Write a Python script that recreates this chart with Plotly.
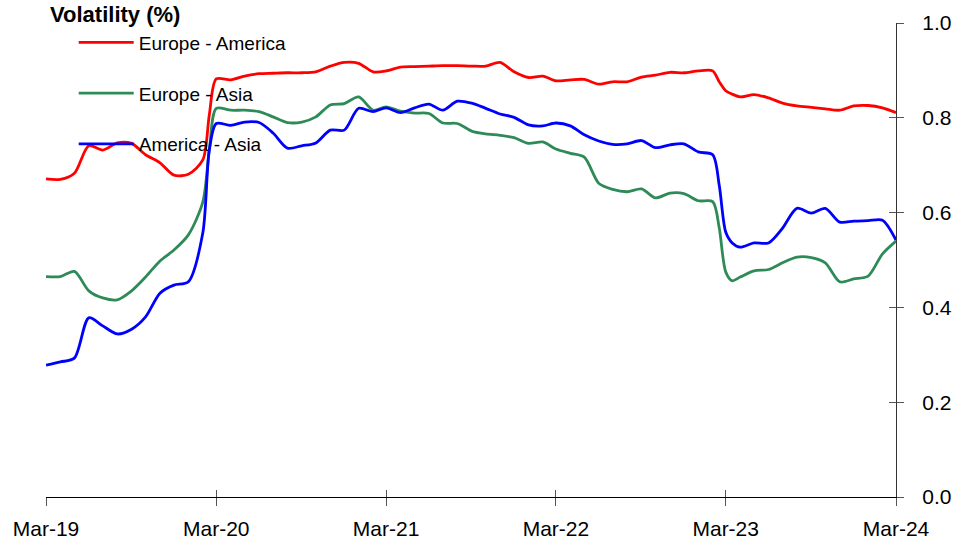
import pandas as pd
import plotly.graph_objects as go

# ---- data ----
monthly = [d.strftime("%Y-%m-%d") for d in pd.date_range("2019-03-01", "2024-03-01", freq="MS")]
extra = ["2020-02-15", "2023-02-15", "2023-03-15"]
dates = sorted(monthly + extra)

europe_america = [
    0.671, 0.670, 0.683, 0.741, 0.732, 0.747, 0.746, 0.722, 0.705, 0.679,
    0.681, 0.711, 0.806, 0.882, 0.880, 0.888, 0.893, 0.894, 0.895, 0.895,
    0.897, 0.909, 0.917, 0.915, 0.897, 0.899, 0.907, 0.908, 0.909, 0.910,
    0.910, 0.909, 0.909, 0.917, 0.897, 0.885, 0.888, 0.878, 0.880, 0.881,
    0.871, 0.876, 0.876, 0.886, 0.890, 0.896, 0.895, 0.899, 0.899, 0.876,
    0.857, 0.850, 0.844, 0.849, 0.842, 0.831, 0.825, 0.822, 0.819, 0.816,
    0.825, 0.826, 0.821, 0.811,
]
europe_asia = [
    0.465, 0.465, 0.476, 0.435, 0.420, 0.416, 0.435, 0.464, 0.498, 0.521,
    0.553, 0.622, 0.732, 0.820, 0.816, 0.816, 0.813, 0.802, 0.790, 0.791,
    0.802, 0.827, 0.830, 0.844, 0.816, 0.823, 0.814, 0.810, 0.809, 0.789,
    0.788, 0.772, 0.766, 0.763, 0.758, 0.746, 0.749, 0.734, 0.725, 0.717,
    0.662, 0.649, 0.644, 0.650, 0.631, 0.641, 0.640, 0.625, 0.623, 0.568,
    0.475, 0.456, 0.464, 0.477, 0.480, 0.494, 0.506, 0.505, 0.494, 0.454,
    0.460, 0.466, 0.513, 0.540,
]
america_asia = [
    0.278, 0.285, 0.293, 0.378, 0.361, 0.344, 0.354, 0.380, 0.430, 0.447,
    0.454, 0.557, 0.732, 0.788, 0.784, 0.791, 0.790, 0.768, 0.736, 0.741,
    0.747, 0.774, 0.774, 0.820, 0.813, 0.821, 0.811, 0.821, 0.829, 0.816,
    0.835, 0.831, 0.820, 0.808, 0.801, 0.785, 0.783, 0.789, 0.783, 0.764,
    0.751, 0.744, 0.745, 0.752, 0.737, 0.743, 0.745, 0.728, 0.722, 0.658,
    0.559, 0.536, 0.527, 0.536, 0.536, 0.567, 0.609, 0.599, 0.609, 0.580,
    0.582, 0.583, 0.584, 0.542,
]
series_names = ["Europe - America", "Europe - Asia", "America - Asia"]
series_colors = ["#FF0000", "#2E8B57", "#0000FF"]
tick_dates = ["2019-03-01", "2020-03-01", "2021-03-01", "2022-03-01", "2023-03-01", "2024-03-01"]
tick_labels = ["Mar-19", "Mar-20", "Mar-21", "Mar-22", "Mar-23", "Mar-24"]
y_ticks = [0.0, 0.2, 0.4, 0.6, 0.8, 1.0]
title_text = "Volatility (%)"

FONT = "Liberation Sans, Arial, sans-serif"

fig = go.Figure()
for i, (name, vals, col) in enumerate(zip(series_names, [europe_america, europe_asia, america_asia], series_colors)):
    fig.add_trace(go.Scatter(
        x=dates, y=vals, name=name, mode="lines",
        line=dict(color=col, width=2.8, shape="spline", smoothing=0.8),
        legendgroup=f"g{i}",
    ))

# empty trace to activate overlay axes (inner half of crossing ticks)
fig.add_trace(go.Scatter(x=[], y=[], xaxis="x2", yaxis="y2", showlegend=False, hoverinfo="skip"))

x_range = [tick_dates[0], tick_dates[-1]]
fig.update_layout(
    width=967, height=545,
    margin=dict(l=46, r=71, t=23, b=48),
    paper_bgcolor="white", plot_bgcolor="white",
    font=dict(family=FONT, size=21, color="black"),
    showlegend=True,
    legend=dict(
        x=0.0326, y=0.9987, xanchor="left", yanchor="top",
        bgcolor="rgba(0,0,0,0)", font=dict(size=19, family=FONT),
        tracegroupgap=23, itemwidth=55,
    ),
    xaxis=dict(
        type="date", range=x_range, tickvals=tick_dates, ticktext=tick_labels,
        showgrid=False, zeroline=False, showline=True, linecolor="black", linewidth=1.2,
        ticks="outside", ticklen=8, tickcolor="#555", tickwidth=1.2,
        tickfont=dict(size=21, family=FONT), ticklabelstandoff=5, automargin=False,
    ),
    yaxis=dict(
        range=[0, 1], side="right", tickvals=y_ticks, tickformat=".1f",
        showgrid=False, zeroline=False, showline=True, linecolor="#333", linewidth=1.2,
        ticks="outside", ticklen=7, tickcolor="#555", tickwidth=1.2,
        tickfont=dict(size=21, family=FONT), ticklabelstandoff=14, automargin=False,
    ),
    xaxis2=dict(
        type="date", range=x_range, tickvals=tick_dates, showticklabels=False,
        overlaying="x", anchor="y2", side="bottom",
        showgrid=False, zeroline=False, showline=False,
        ticks="inside", ticklen=7, tickcolor="#555", tickwidth=1.2, automargin=False,
    ),
    yaxis2=dict(
        range=[0, 1], tickvals=y_ticks, showticklabels=False,
        overlaying="y", anchor="x2", side="right",
        showgrid=False, zeroline=False, showline=False,
        ticks="inside", ticklen=7, tickcolor="#555", tickwidth=1.2, automargin=False,
    ),
    annotations=[dict(
        text=f"<b>{title_text}</b>", xref="paper", yref="paper", x=0, y=1,
        xanchor="left", yanchor="middle", xshift=2, yshift=9, showarrow=False,
        font=dict(size=22, family=FONT, color="black"),
    )],
)

fig.write_html("out.html", config={"displayModeBar": False},
               post_script="document.body.style.margin='0';")
